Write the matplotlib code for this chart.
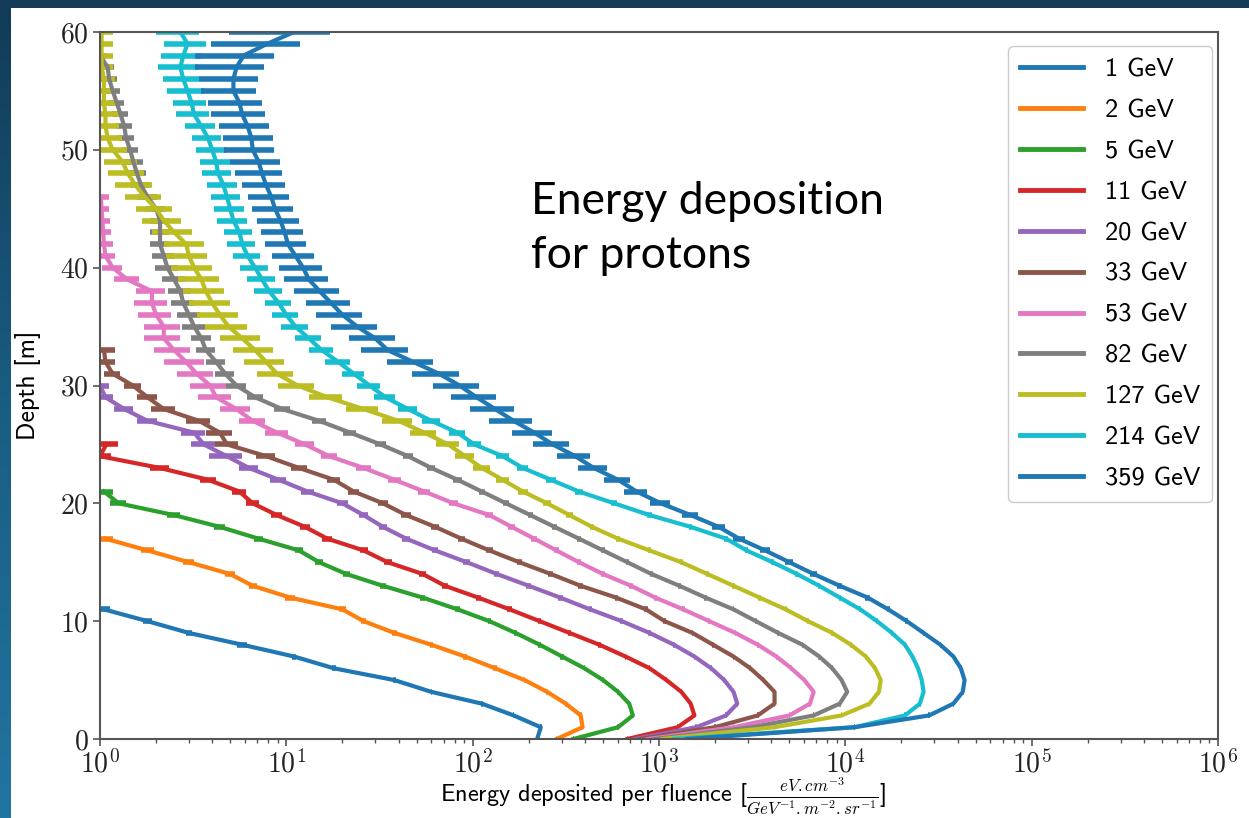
import numpy as np
import matplotlib
matplotlib.use("Agg")
import matplotlib.pyplot as plt
from matplotlib.patches import Rectangle
from matplotlib.lines import Line2D

# Energy deposition vs depth for protons
labels = ["1 GeV", "2 GeV", "5 GeV", "11 GeV", "20 GeV", "33 GeV",
          "53 GeV", "82 GeV", "127 GeV", "214 GeV", "359 GeV"]

# depths are 0, 1, 2, ... m (one value per metre)
e_1 = [222, 232, 166, 112, 60, 38, 18, 11, 5.8, 3.0, 1.8, 1.05]
e_2 = [282, 389, 380, 316, 251, 190, 132, 91, 60, 38, 26, 20, 10.5, 6.6, 5.0, 3.0,
       1.8, 1.07]
e_5 = [347, 603, 724, 692, 603, 501, 398, 302, 229, 170, 123, 83, 54, 33, 21, 15,
       11.7, 7.1, 4.4, 2.5, 1.26, 1.05]
e_11 = [676, 1259, 1549, 1479, 1318, 1096, 891, 661, 479, 331, 229, 158, 107, 71,
        54, 35, 26, 16.6, 12.6, 8.9, 6.6, 5.6, 3.8, 2.1, 1.0, 1.08]
e_20 = [741, 1585, 2291, 2630, 2512, 2239, 1905, 1549, 1202, 891, 631, 427, 295,
        200, 135, 93, 63, 44, 33, 26, 20, 13, 9.1, 6.3, 4.8, 3.6, 3.2, 1.8, 1.35,
        1.07, 1.0]
e_33 = [794, 1995, 3388, 4169, 4169, 3631, 3090, 2512, 1950, 1514, 1072, 851, 589,
        380, 263, 178, 123, 87, 63, 44, 33, 23, 18, 11.7, 7.8, 4.8, 4.4, 3.4, 2.2,
        1.8, 1.5, 1.17, 1.07, 1.05]
e_53 = [871, 2512, 5012, 6457, 6761, 6026, 5129, 4266, 3388, 2570, 1862, 1349, 955,
        708, 501, 372, 282, 214, 162, 123, 79, 55, 38, 26, 17, 12.6, 8.9, 6.6, 5.4,
        4.2, 3.9, 3.3, 2.9, 2.5, 2.2, 2.2, 2.0, 1.9, 1.9, 1.4, 1.17, 1.07, 1.05,
        1.04, 1.03, 1.02, 1.01]
e_82 = [955, 3162, 6761, 9333, 10233, 9550, 8511, 7244, 5888, 4365, 3311, 2512,
        1778, 1288, 912, 676, 501, 372, 275, 204, 151, 112, 83, 60, 45, 32, 22, 15,
        9.5, 6.8, 5.4, 4.7, 4.2, 3.7, 3.5, 3.2, 3.0, 2.8, 2.7, 2.5, 2.3, 2.2, 2.1,
        2.1, 2.1, 2.0, 1.8, 1.66, 1.58, 1.51, 1.45, 1.38, 1.35, 1.29, 1.23, 1.17,
        1.12, 1.10, 1.0]
e_127 = [1047, 4169, 9550, 13490, 15136, 15488, 14454, 12882, 10715, 8511, 6310,
         4786, 3467, 2512, 1820, 1318, 891, 603, 437, 331, 251, 186, 145, 112, 91,
         74, 55, 40, 26, 16.6, 11.5, 8.9, 7.8, 6.8, 5.8, 4.9, 4.4, 4.0, 3.7, 3.5,
         3.2, 3.0, 2.9, 2.5, 2.2, 2.0, 1.74, 1.55, 1.41, 1.32, 1.17, 1.10, 1.07,
         1.07, 1.05, 1.05, 1.05, 1.02, 1.02, 1.02, 1.02]
e_214 = [1202, 11220, 20893, 25119, 26303, 25704, 24547, 22909, 20893, 17783,
         14791, 12023, 9333, 7244, 5495, 4074, 2951, 2291, 1479, 891, 575, 372, 263,
         186, 145, 102, 83, 60, 45, 34, 28, 23, 19, 15.5, 13.2, 11.2, 10, 9.1, 8.1,
         7.4, 6.8, 6.2, 5.8, 5.6, 5.2, 5.0, 4.8, 4.6, 4.3, 4.2, 4.0, 3.8, 3.5, 3.2,
         3.1, 2.95, 2.8, 2.7, 2.8, 2.95, 2.7]
e_359 = [1413, 11220, 28184, 38019, 42658, 43652, 41687, 38019, 32359, 26303,
         21380, 16982, 13183, 9333, 6761, 5012, 3715, 2692, 2089, 1479, 1023, 759,
         603, 447, 355, 269, 214, 166, 132, 105, 85, 66, 48, 35, 30, 24, 20, 17.4,
         15.1, 13.2, 12.3, 11.2, 10.2, 9.8, 9.3, 8.7, 8.3, 7.8, 7.4, 7.1, 6.6, 6.5,
         6.2, 5.8, 5.6, 5.2, 5.2, 5.4, 5.9, 7.9, 11]

# relative (statistical) error on each value
r_1 = [.01, .01, .01, .01, .01, .02, .02, .03, .06, .04, .05, .08]
r_2 = [.01, .01, .01, .01, .01, .01, .02, .02, .02, .03, .03, .04, .06, .05, .06,
       .07, .08, .10]
r_5 = [.01, .01, .01, .01, .01, .01, .01, .02, .02, .02, .02, .03, .03, .04, .04,
       .05, .05, .06, .07, .08, .10, .12]
r_11 = [.01] * 8 + [.02, .02, .02, .03, .03, .04, .04, .05, .05, .06, .06, .07,
                    .08, .09, .10, .12, .14, .15]
r_20 = [.01] * 9 + [.02, .02, .02, .03, .03, .03, .04, .04, .05, .05, .06, .07,
                    .08, .10, .12, .20, .15, .15, .12, .12, .10, .12]
r_33 = [.01] * 10 + [.02, .02, .02, .03, .03, .03, .04, .04, .05, .06, .06, .07,
                     .08, .10, .12, .14, .16, .15, .15, .12, .10, .10, .12, .15]
r_53 = [.01] * 11 + [.02, .02, .02, .03, .03, .03, .04, .04, .05, .06, .07, .08,
                     .09, .10, .12, .14, .16, .18, .20, .22, .22, .24, .22, .22,
                     .22, .20, .20, .18, .15, .12, .12, .12, .10, .10, .10, .10]
r_82 = [.01] * 12 + [.02] * 6 + [.03, .03, .04, .04, .05, .05, .06, .07, .08, .09,
                                 .10, .10] + [.12] * 5 + [.14] * 7 + [.12] * 8 \
       + [.10] * 7 + [.08, .08]
r_127 = [.01] * 12 + [.02] * 6 + [.03, .04, .05, .06, .08, .10, .12, .14, .16,
                                  .18, .20, .20, .22, .22, .24, .24, .24] \
        + [.25] * 7 + [.24, .24, .24, .22, .22, .22, .22, .20, .20, .20, .18,
                       .18, .16] + [.15] * 6
r_214 = [.01] * 14 + [.02] * 5 + [.03, .04, .05, .06, .07, .08, .09, .10, .11,
                                  .12, .13, .14, .14, .15, .15, .16, .16, .16,
                                  .16] + [.17] * 6 + [.18] * 9 \
        + [.20, .20, .22, .22, .24, .24, .25, .26]
r_359 = [.01] * 10 + [.02, .02, .03, .03, .04, .05, .06, .07, .08, .10, .12, .14,
                      .16, .18, .20, .22, .24, .26, .27, .27] + [.28] * 7 \
        + [.27, .27, .26, .26] + [.25] * 6 \
        + [.26, .28, .30, .30, .30, .30, .32, .32, .33, .35, .40, .45, .50, .55]

energies = [e_1, e_2, e_5, e_11, e_20, e_33, e_53, e_82, e_127, e_214, e_359]
rel_errs = [r_1, r_2, r_5, r_11, r_20, r_33, r_53, r_82, r_127, r_214, r_359]
colors = ["C0", "C1", "C2", "C3", "C4", "C5", "C6", "C7", "C8", "C9", "C0"]

plt.rcParams["mathtext.fontset"] = "cm"
plt.rcParams["font.family"] = "cmr10"
plt.rcParams["axes.formatter.use_mathtext"] = True

W, H = 1249, 818
fig = plt.figure(figsize=(W / 100, H / 100), dpi=100)

# slide background: dark blue gradient with a white panel
bg = fig.add_axes([0, 0, 1, 1], zorder=-10)
grad = np.linspace(0, 1, 256).reshape(-1, 1)
cmap = matplotlib.colors.LinearSegmentedColormap.from_list(
    "slide", ["#113b57", "#1a5d82", "#2175a1"])
bg.imshow(grad, aspect="auto", cmap=cmap, extent=[0, 1, 0, 1], origin="upper")
bg.add_patch(Rectangle((11 / W, 0), 1, (H - 8) / H, facecolor="white",
                       edgecolor="none", transform=bg.transAxes))
bg.set_xlim(0, 1)
bg.set_ylim(0, 1)
bg.axis("off")

ax = fig.add_axes([100 / W, (H - 739) / H, 1118 / W, 707 / H])
ax.set_facecolor("none")

for vals, rel, col in zip(energies, rel_errs, colors):
    vals = np.array(vals, dtype=float)
    depth = np.arange(len(vals))
    err = vals * np.array(rel)
    ax.errorbar(vals, depth, xerr=err, color=col, lw=3, elinewidth=4, capsize=0)

ax.set_xscale("log")
ax.set_xlim(1, 1e6)
ax.set_ylim(0, 60)
ax.set_yticks(range(0, 61, 10))

for sp in ax.spines.values():
    sp.set_color("#555555")
    sp.set_linewidth(1.5)
ax.tick_params(which="major", length=5, width=1.2, color="#555555", labelsize=20,
               labelcolor="#222222", pad=3)
ax.tick_params(which="minor", length=3, width=1, color="#555555")

ax.set_ylabel("Depth [m]", family="cmss10", fontsize=18.5, labelpad=14)
ax.set_xlabel(r"Energy deposited per fluence [$\frac{eV.cm^{-3}}{GeV^{-1}.m^{-2}.sr^{-1}}$]",
              family="cmss10", fontsize=17.5)
ax.xaxis.set_label_coords(0.5036, -0.052)

handles = [Line2D([], [], color=c, lw=3.5) for c in colors]
leg = ax.legend(handles, labels, loc="upper right", bbox_to_anchor=(0.9946, 0.980),
                borderaxespad=0, prop={"family": "cmss10", "size": 19},
                labelspacing=0.66, handlelength=2.4, handletextpad=0.8,
                borderpad=0.45, fancybox=True, framealpha=1, edgecolor="#cccccc")

fig.text(531 / W, 1 - 268 / H, "Energy deposition\nfor protons", family="Lato",
         fontsize=32, va="baseline", ha="left", linespacing=1.4)

fig.savefig("out.png", dpi=100)
